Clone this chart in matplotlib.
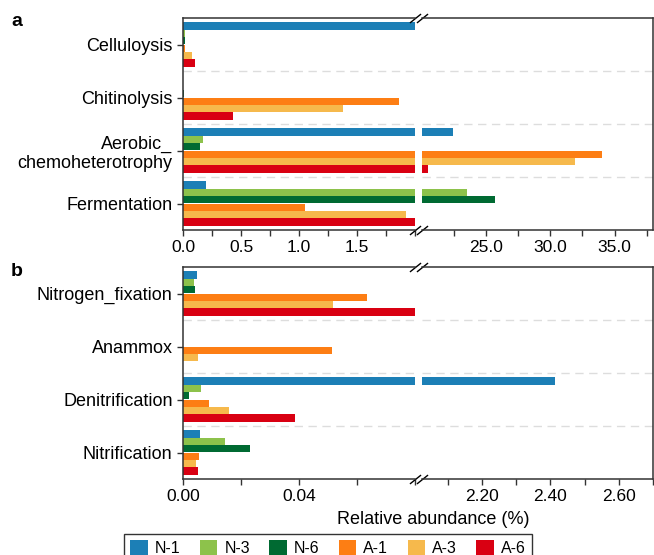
import numpy as np
import matplotlib.pyplot as plt
from matplotlib.patches import Patch

plt.rcParams['font.family'] = ['Liberation Sans', 'DejaVu Sans']

samples = ['N-1', 'N-3', 'N-6', 'A-1', 'A-3', 'A-6']
cores = ['#1c7fb6', '#8dc24b', '#006a32', '#fd7e14', '#f6b94c', '#d90012']

# painel a: degradacao de carbono
funcoes_a = ['Celluloysis', 'Chitinolysis', 'Aerobic_\nchemoheterotrophy', 'Fermentation']
n1_a = [2.00, 0.0, 22.4, 0.196]
n3_a = [0.015, 0.0, 0.176, 23.5]
n6_a = [0.02, 0.005, 0.147, 25.65]
a1_a = [0.02, 1.866, 34.0, 1.055]
a3_a = [0.08, 1.38, 31.95, 1.92]
a6_a = [0.10, 0.435, 20.46, 2.00]

# painel b: ciclo do nitrogenio
funcoes_b = ['Nitrogen_fixation', 'Anammox', 'Denitrification', 'Nitrification']
n1_b = [0.0047, 0.0, 2.413, 0.0059]
n3_b = [0.0039, 0.0, 0.0061, 0.0146]
n6_b = [0.0042, 0.0, 0.0020, 0.0230]
a1_b = [0.0633, 0.0513, 0.0091, 0.0055]
a3_b = [0.0518, 0.0052, 0.0158, 0.0044]
a6_b = [0.0800, 0.0, 0.0385, 0.0051]

valores_a = [n1_a, n3_a, n6_a, a1_a, a3_a, a6_a]
valores_b = [n1_b, n3_b, n6_b, a1_b, a3_b, a6_b]

cor_eixo = '#333333'


def desenha_barras(axis, valores):
    posicoes = np.arange(4)
    for i, serie in enumerate(valores):
        axis.barh(posicoes + (i - 2.5) * 0.14, serie, height=0.135,
                  color=cores[i], edgecolor='none')
    for y in [0.5, 1.5, 2.5]:
        axis.axhline(y, color='#dddddd', lw=1.0, dashes=(6, 4), zorder=0)
    axis.set_ylim(3.5, -0.5)
    axis.tick_params(axis='both', colors=cor_eixo, labelcolor='black',
                     labelsize=12.5, length=4, width=1)
    for spine in axis.spines.values():
        spine.set_color(cor_eixo)
        spine.set_linewidth(1.1)


def painel(bottom, funcoes, valores, lim_esq, lim_dir, ticks_esq, rot_esq,
           ticks_dir, rot_dir, letra):
    esquerda = fig.add_axes([183 / 654, bottom, 232 / 654, 212 / 555])
    direita = fig.add_axes([422 / 654, bottom, 231 / 654, 212 / 555])

    desenha_barras(esquerda, valores)
    desenha_barras(direita, valores)

    esquerda.set_xlim(*lim_esq)
    direita.set_xlim(*lim_dir)

    esquerda.spines['right'].set_visible(False)
    direita.spines['left'].set_visible(False)

    esquerda.set_yticks(np.arange(4))
    esquerda.set_yticklabels(funcoes, fontsize=13)
    direita.set_yticks([])

    esquerda.set_xticks(ticks_esq)
    esquerda.set_xticklabels(rot_esq)
    direita.set_xticks(ticks_dir)
    direita.set_xticklabels(rot_dir)

    # marcas de quebra do eixo
    quebra = dict(marker=[(-1, -0.8), (1, 0.8)], markersize=8, linestyle='none',
                  color='black', mec='black', mew=1, clip_on=False)
    esquerda.plot([1, 1], [0, 1], transform=esquerda.transAxes, **quebra)
    direita.plot([0, 0], [0, 1], transform=direita.transAxes, **quebra)

    fig.text(11 / 654, bottom + 212 / 555 - 4 / 555, letra, fontsize=14,
             fontweight='bold', ha='left', va='center')


fig = plt.figure(figsize=(6.54, 5.55), dpi=100)

painel(1 - 230 / 555, funcoes_a, valores_a, (0, 2.0), (20, 38),
       np.arange(0, 2.01, 0.25),
       ['0.0', '', '0.5', '', '1.0', '', '1.5', '', ''],
       np.arange(22.5, 37.6, 2.5),
       ['', '25.0', '', '30.0', '', '35.0', ''], 'a')

painel(1 - 479 / 555, funcoes_b, valores_b, (0, 0.08), (2.025, 2.7),
       np.arange(0, 0.081, 0.02),
       ['0.00', '', '0.04', '', ''],
       np.arange(2.1, 2.71, 0.1),
       ['', '2.20', '', '2.40', '', '2.60', ''], 'b')

fig.text(433 / 654, 1 - 519 / 555, 'Relative abundance (%)', fontsize=13,
         ha='center', va='center')

handles = [Patch(facecolor=c, edgecolor='none', label=s) for s, c in zip(samples, cores)]
leg = fig.legend(handles=handles, loc='upper center', bbox_to_anchor=(328 / 654, 1 - 534 / 555),
                 borderaxespad=0, ncol=6, fontsize=11.5, frameon=True, fancybox=False,
                 edgecolor='black', handlelength=1.1, handleheight=1.1, columnspacing=1.2,
                 handletextpad=0.45, borderpad=0.4)
leg.get_frame().set_linewidth(1.0)

fig.savefig('out.png', dpi=100)
